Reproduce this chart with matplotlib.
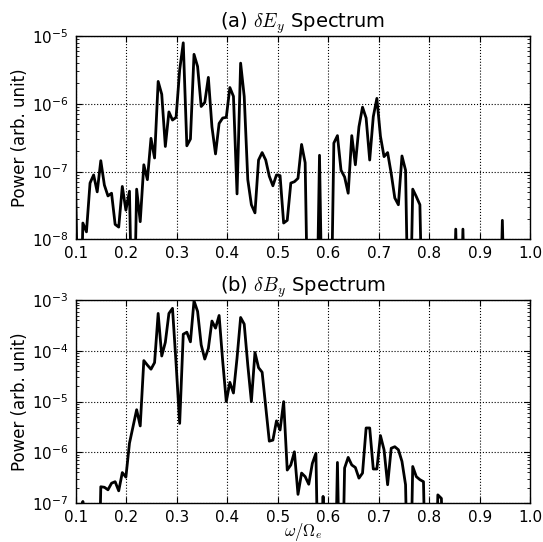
import numpy as np
import matplotlib
matplotlib.use("Agg")
import matplotlib.pyplot as plt

plt.rcParams['mathtext.fontset'] = 'cm'
plt.rcParams['font.family'] = ['DejaVu Sans']

# frequency grid (omega / Omega_e)
freq_start = 0.1
freq_step = 0.0071

# log10 of spectral power (-10 = below axis floor)
Ey_log10 = [
    -7.32, -10, -7.76, -7.89, -7.17, -7.05, -7.30, -6.84, -7.20, -7.36,
    -7.32, -7.78, -7.82, -7.22, -7.57, -7.29, -10, -7.26, -7.74, -6.90,
    -7.12, -6.51, -6.80, -5.67, -5.86, -6.63, -6.12, -6.24, -6.20, -5.50,
    -5.10, -6.62, -6.52, -5.27, -5.45, -6.04, -5.98, -5.61, -6.34, -6.74,
    -6.29, -6.21, -6.20, -5.76, -5.89, -7.33, -5.40, -5.89, -7.12, -7.49,
    -7.61, -6.83, -6.72, -6.83, -7.07, -7.21, -7.05, -7.06, -7.76, -7.72,
    -7.17, -7.15, -7.10, -6.60, -6.87, -10, -10, -10, -6.76, -10,
    -10, -10, -6.58, -6.47, -6.98, -7.08, -7.32, -6.47, -6.90, -6.34,
    -6.05, -6.21, -6.83, -6.19, -5.92, -6.48, -6.78, -6.72, -7.03, -7.39,
    -7.49, -6.77, -6.98, -10, -7.26, -7.37, -7.49, -10, -10, -10,
    -10, -10, -10, -10, -10, -10, -7.85, -10, -7.85, -10,
    -10, -10, -10, -10, -10, -10, -10, -10, -10, -7.72,
    -10, -10, -10, -10, -10, -10, -10,
]

By_log10 = [
    -10, -10, -6.97, -10, -10, -10, -10, -6.68, -6.69, -6.74,
    -6.61, -6.58, -6.76, -6.40, -6.49, -5.82, -5.49, -5.16, -5.48, -4.19,
    -4.28, -4.36, -4.23, -3.26, -4.10, -3.83, -3.26, -3.16, -4.25, -5.43,
    -3.67, -3.63, -3.82, -3.01, -3.22, -3.88, -4.16, -3.95, -3.41, -3.55,
    -3.30, -4.20, -5.00, -4.62, -4.83, -4.14, -3.34, -3.47, -4.28, -5.00,
    -4.03, -4.33, -4.42, -5.10, -5.78, -5.76, -5.38, -5.56, -5.00, -6.35,
    -6.25, -5.99, -6.83, -6.41, -6.48, -6.63, -6.22, -6.02, -10, -6.87,
    -10, -10, -10, -6.20, -10, -6.31, -6.10, -6.25, -6.30, -6.51,
    -6.41, -5.52, -5.52, -6.33, -6.33, -5.67, -5.95, -6.64, -5.92, -5.89,
    -5.95, -6.18, -6.64, -10, -6.28, -6.48, -6.54, -6.58, -10, -10,
    -10, -6.84, -6.91, -10, -10, -10, -10, -10, -10, -10,
    -10, -10, -10, -10, -10, -10, -10, -10, -10, -10,
    -10, -10, -10, -10, -10, -10, -10,
]

xtick_values = [0.1, 0.2, 0.3, 0.4, 0.5, 0.6, 0.7, 0.8, 0.9, 1.0]
titles = [r"(a) $\delta E_y$ Spectrum", r"(b) $\delta B_y$ Spectrum"]
ylims = [(1e-8, 1e-5), (1e-7, 1e-3)]
ylabel = "Power (arb. unit)"
xlabel = r"$\omega/\Omega_e$"

fig = plt.figure(figsize=(5.43, 5.42), dpi=100)
ax1 = fig.add_axes([0.1394, 0.5585, 0.837, 0.375])
ax2 = fig.add_axes([0.1394, 0.072, 0.837, 0.374])

series = [Ey_log10, By_log10]
for ax, vals, title, ylim in zip([ax1, ax2], series, titles, ylims):
    freq = freq_start + freq_step * np.arange(len(vals))
    power = 10.0 ** np.array(vals)
    ax.semilogy(freq, power, color='black', lw=2.0)
    ax.set_xlim(0.1, 1.0)
    ax.set_ylim(*ylim)
    ax.set_xticks(xtick_values)
    ax.set_title(title, fontsize=14, pad=5)
    ax.set_ylabel(ylabel, fontsize=12, labelpad=2)
    ax.grid(True, which='major', color='black', linestyle=':', linewidth=0.8)
    ax.tick_params(which='both', direction='in', top=True, right=True,
                   labelsize=11, pad=5)
    ax.tick_params(which='major', length=4, width=0.8)
    ax.tick_params(which='minor', length=2, width=0.6)
    for s in ax.spines.values():
        s.set_linewidth(1.0)

ax2.set_xlabel(xlabel, fontsize=12, labelpad=-3)

fig.savefig("out.png", dpi=100, facecolor='white')
